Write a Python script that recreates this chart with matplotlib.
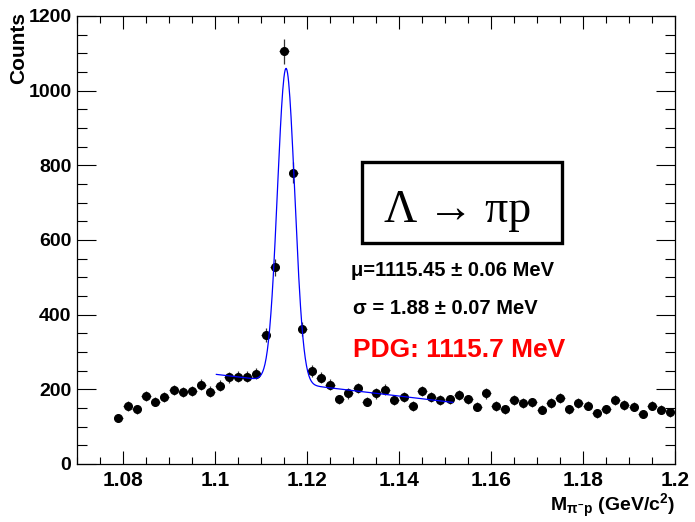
import numpy as np
import matplotlib.pyplot as plt
from matplotlib.patches import Rectangle

plt.rcParams['font.family'] = ['Liberation Sans', 'DejaVu Sans']
plt.rcParams['mathtext.fontset'] = 'custom'
plt.rcParams['mathtext.rm'] = 'Liberation Sans:bold'
plt.rcParams['mathtext.it'] = 'Liberation Sans:bold'
plt.rcParams['mathtext.bf'] = 'Liberation Sans:bold'

# Histogram: bin centres (GeV/c^2) and counts
bin_lo = 1.078
bin_width = 0.002
counts = [124, 155, 146, 182, 167, 180, 198, 192, 196, 212,
          194, 210, 232, 234, 234, 242, 346, 527, 1106, 780,
          362, 250, 231, 212, 173, 189, 204, 167, 189, 199,
          171, 180, 155, 196, 179, 171, 173, 185, 173, 154,
          189, 155, 146, 171, 163, 165, 145, 164, 176, 146,
          164, 156, 136, 147, 171, 158, 154, 134, 156, 145, 138]

# Fit: gaussian + linear background over the fit range
fit_lo, fit_hi = 1.1003, 1.1517
fit_mu = 1.11545
fit_sigma = 0.00188
fit_amp = 842
bkg_lo, bkg_hi = 240, 165

counts = np.array(counts, dtype=float)
centres = bin_lo + bin_width*(np.arange(len(counts)) + 0.5)

W, H = 695, 522
fig = plt.figure(figsize=(W/100, H/100), dpi=100)
ax = fig.add_axes([77/W, 1-464/H, (675-77)/W, (464-16)/H])

def px(x, y):
    # pixel coords (from top-left) -> figure fraction
    return x/W, 1 - y/H

# Data points
ax.errorbar(centres, counts, yerr=np.sqrt(counts), xerr=bin_width/2,
            fmt='o', color='black', ms=5.5, elinewidth=0.9, capsize=0,
            ecolor='#333333', zorder=3)

# Fit curve
xf = np.linspace(fit_lo, fit_hi, 400)
bkg = bkg_lo + (bkg_hi - bkg_lo)*(xf - fit_lo)/(fit_hi - fit_lo)
yf = fit_amp*np.exp(-0.5*((xf - fit_mu)/fit_sigma)**2) + bkg
ax.plot(xf, yf, '-', color='#0000ff', lw=0.9, zorder=4)

ax.set_xlim(1.07, 1.2)
ax.set_ylim(0, 1200)
ax.set_xticks([1.08, 1.1, 1.12, 1.14, 1.16, 1.18, 1.2])
ax.set_xticklabels(['1.08', '1.1', '1.12', '1.14', '1.16', '1.18', '1.2'])
ax.set_xticks(np.arange(1.07, 1.2001, 0.005), minor=True)
ax.set_yticks(np.arange(0, 1201, 200))
ax.set_yticks(np.arange(0, 1201, 50), minor=True)

ax.tick_params(which='both', direction='in', top=True, right=True, width=0.8)
ax.tick_params(axis='x', which='major', length=9.5, pad=5, labelsize=15)
ax.tick_params(axis='x', which='minor', length=5)
ax.tick_params(axis='y', which='major', length=13.5, pad=4, labelsize=14)
ax.tick_params(axis='y', which='minor', length=7)
for lab in ax.get_xticklabels() + ax.get_yticklabels():
    lab.set_fontweight('bold')
for s in ax.spines.values():
    s.set_linewidth(0.9)

# Axis titles
fig.text(*px(675, 506), r'M$_{\pi^{-}p}$ (GeV/c$^{2}$)', ha='right', va='center',
         fontsize=14, fontweight='bold')
fig.text(*px(19, 12), 'Counts', rotation=90, ha='center', va='top',
         fontsize=15, fontweight='bold')

# Decay label box
x0, y0 = px(361.7, 243.3)
x1, y1 = px(561.7, 161.7)
fig.patches.append(Rectangle((x0, y0), x1 - x0, y1 - y0, transform=fig.transFigure,
                             fill=False, ec='black', lw=2.4))
fig.text(*px(458, 222), 'Λ → πp', ha='center', va='baseline',
         fontsize=33, family=['Liberation Serif', 'DejaVu Serif'])

# Fit results
fig.text(*px(351, 271), 'μ=1115.45 ± 0.06 MeV', ha='left', va='center',
         fontsize=14.5, fontweight='bold')
fig.text(*px(353, 309), 'σ = 1.88 ± 0.07 MeV', ha='left', va='center',
         fontsize=14.5, fontweight='bold')
fig.text(*px(353, 350), 'PDG: 1115.7 MeV', ha='left', va='center',
         fontsize=19, fontweight='bold', color='#ff0000')

fig.savefig('out.png', dpi=100)
